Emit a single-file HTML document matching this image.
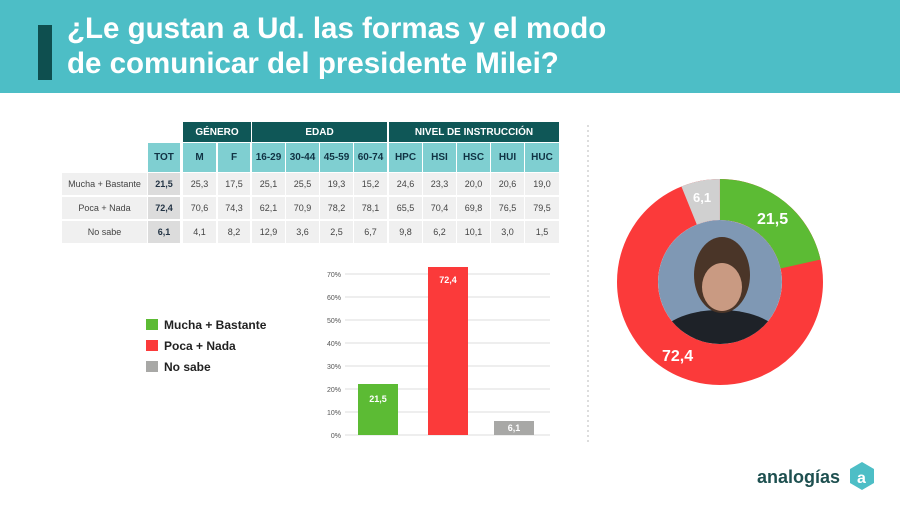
<!DOCTYPE html>
<html><head><meta charset="utf-8"><style>
body{margin:0;width:900px;height:511px;background:#fff;font-family:"Liberation Sans",sans-serif;position:relative;overflow:hidden}
.hdr{position:absolute;left:0;top:0;width:900px;height:93px;background:#4dbec6}
.bar{position:absolute;left:38px;top:25px;width:14px;height:55px;background:#0e4f4f}
.t{position:absolute;left:67px;color:#fff;font-weight:bold;font-size:29.5px;white-space:nowrap}
.c{position:absolute;display:flex;align-items:center;justify-content:center;font-size:9px;color:#444}
.h1{background:#0f5757;color:#fff;font-weight:bold;font-size:10px}
.h2{background:#7fcfd1;color:#134;font-weight:bold;font-size:10px}
.d{background:#f0f0f0}
.tot{background:#dcdcdc;font-weight:bold;color:#234}
.lg{position:absolute;left:146px;font-size:12px;color:#222;font-weight:bold}
.lg span{display:inline-block;width:12px;height:11px;vertical-align:-1px;margin-right:6px}
</style></head><body>
<div class="hdr"></div><div class="bar"></div>
<div class="t" style="top:12px">¿Le gustan a Ud. las formas y el modo</div>
<div class="t" style="top:47px">de comunicar del presidente Milei?</div>
<div id="tbl"></div>
<svg width="900" height="511" style="position:absolute;left:0;top:0">
<defs><clipPath id="cp"><circle cx="720" cy="282" r="62"/></clipPath></defs>
<line x1="588" y1="125" x2="588" y2="442" stroke="#bbb" stroke-dasharray="2,3"/>
<g stroke="#ddd" stroke-width="1">
<line x1="345" x2="550" y1="435" y2="435"/><line x1="345" x2="550" y1="412" y2="412"/><line x1="345" x2="550" y1="389" y2="389"/><line x1="345" x2="550" y1="366" y2="366"/><line x1="345" x2="550" y1="343" y2="343"/><line x1="345" x2="550" y1="320" y2="320"/><line x1="345" x2="550" y1="297" y2="297"/><line x1="345" x2="550" y1="274" y2="274"/>
</g>
<g font-size="7" fill="#555" text-anchor="end">
<text x="341" y="438">0%</text><text x="341" y="415">10%</text><text x="341" y="392">20%</text><text x="341" y="369">30%</text><text x="341" y="346">40%</text><text x="341" y="323">50%</text><text x="341" y="300">60%</text><text x="341" y="277">70%</text></g>
<rect x="358" y="384" width="40" height="51" fill="#5cbb34"/>
<rect x="428" y="267" width="40" height="168" fill="#fb3a3a"/>
<rect x="494" y="421" width="40" height="14" fill="#a8a8a6"/>
<g font-size="9" fill="#fff" font-weight="bold" text-anchor="middle">
<text x="378" y="402">21,5</text><text x="448" y="283">72,4</text><text x="514" y="431">6,1</text></g>
<circle cx="720" cy="282" r="82.5" fill="none" stroke="#fb3a3a" stroke-width="41"/>
<circle cx="720" cy="282" r="82.5" fill="none" stroke="#5cbb34" stroke-width="41" stroke-dasharray="111.4 1000" transform="rotate(-90 720 282)"/>
<circle cx="720" cy="282" r="82.5" fill="none" stroke="#d0d0d0" stroke-width="41" stroke-dasharray="31.6 1000" transform="rotate(-112 720 282)"/>
<g clip-path="url(#cp)">
<circle cx="720" cy="282" r="62" fill="#7f98b4"/>
<ellipse cx="720" cy="338" rx="60" ry="28" fill="#1e2228"/>
<ellipse cx="722" cy="275" rx="28" ry="38" fill="#4a3528"/>
<ellipse cx="722" cy="287" rx="20" ry="24" fill="#c99a82"/>
</g>
<g font-size="16" fill="#fff" font-weight="bold">
<text x="757" y="224">21,5</text><text x="662" y="361">72,4</text><text x="693" y="202" font-size="13">6,1</text></g>
<g font-size="18" font-weight="bold"><text x="757" y="483" fill="#1e5050">analogías</text></g>
<path d="M862,462 l12,7 v14 l-12,7 l-12,-7 v-14z" fill="#4dbec6"/>
<text x="857" y="483" font-size="16" font-weight="bold" fill="#fff">a</text>
</svg>
<div class="lg" style="top:318px"><span style="background:#5cbb34"></span>Mucha + Bastante</div>
<div class="lg" style="top:339px"><span style="background:#fb3a3a"></span>Poca + Nada</div>
<div class="lg" style="top:360px"><span style="background:#a8a8a6"></span>No sabe</div>
<script>
const T=document.getElementById('tbl');let h='';
function c(x,y,w,hh,cls,t){h+=`<div class="c ${cls}" style="left:${x}px;top:${y}px;width:${w}px;height:${hh}px">${t}</div>`;}
c(183,122,68,20,'h1','GÉNERO');c(252,122,135,20,'h1','EDAD');c(389,122,170,20,'h1','NIVEL DE INSTRUCCIÓN');
const cols=[[148,32,'TOT'],[183,33,'M'],[218,32,'F'],[252,33,'16-29'],[286,33,'30-44'],[320,33,'45-59'],[354,33,'60-74'],[389,33,'HPC'],[423,33,'HSI'],[457,33,'HSC'],[491,33,'HUI'],[525,34,'HUC']];
cols.forEach(k=>c(k[0],143,k[1],29,'h2',k[2]));
const rows=[['Mucha + Bastante','21,5 25,3 17,5 25,1 25,5 19,3 15,2 24,6 23,3 20,0 20,6 19,0'],['Poca + Nada','72,4 70,6 74,3 62,1 70,9 78,2 78,1 65,5 70,4 69,8 76,5 79,5'],['No sabe','6,1 4,1 8,2 12,9 3,6 2,5 6,7 9,8 6,2 10,1 3,0 1,5']];
rows.forEach((r,i)=>{const y=173+i*24;c(62,y,85,22,'d',r[0]);r[1].split(' ').forEach((v,j)=>c(cols[j][0],y,cols[j][1],22,j==0?'tot':'d',v));});
T.innerHTML=h;
</script>
</body></html>
